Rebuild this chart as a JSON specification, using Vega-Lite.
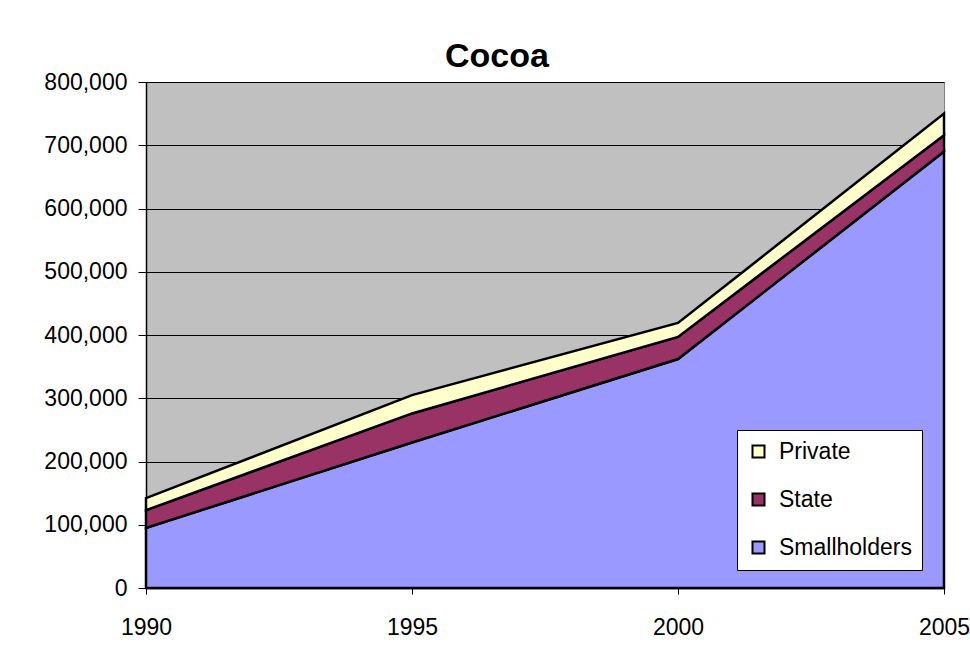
{
  "$schema": "https://vega.github.io/schema/vega-lite/v6.json",
  "width": 798,
  "height": 506,
  "autosize": "none",
  "padding": {"left": 146, "top": 82, "right": 26, "bottom": 63},
  "background": "white",
  "title": {"text": "Cocoa", "font": "Liberation Sans", "fontSize": 34, "fontWeight": "bold", "color": "black", "offset": -3, "anchor": "middle", "dx": -48},
  "data": {"values": [
    {"year": 1990, "owner": "Smallholders", "k": 1, "value": 95000},
    {"year": 1990, "owner": "State", "k": 2, "value": 28000},
    {"year": 1990, "owner": "Private", "k": 3, "value": 19000},
    {"year": 1995, "owner": "Smallholders", "k": 1, "value": 230000},
    {"year": 1995, "owner": "State", "k": 2, "value": 46000},
    {"year": 1995, "owner": "Private", "k": 3, "value": 29000},
    {"year": 2000, "owner": "Smallholders", "k": 1, "value": 362000},
    {"year": 2000, "owner": "State", "k": 2, "value": 35000},
    {"year": 2000, "owner": "Private", "k": 3, "value": 22000},
    {"year": 2005, "owner": "Smallholders", "k": 1, "value": 690000},
    {"year": 2005, "owner": "State", "k": 2, "value": 26000},
    {"year": 2005, "owner": "Private", "k": 3, "value": 34000}
  ]},
  "config": {
    "view": {"fill": "#C0C0C0", "stroke": "#808080", "strokeWidth": 1},
    "axis": {"labelFont": "Liberation Sans", "labelFontSize": 23, "labelColor": "black", "domainColor": "black", "tickColor": "black", "title": null}
  },
  "mark": {"type": "area", "stroke": "black", "strokeWidth": 2.5, "opacity": 1, "strokeJoin": "miter"},
  "encoding": {
    "x": {"field": "year", "type": "quantitative", "scale": {"domain": [1990, 2005], "nice": false, "zero": false},
      "axis": {"values": [1990, 1995, 2000, 2005], "format": "d", "grid": false, "tickSize": 6, "labelPadding": 22, "domainWidth": 1.5, "labelFlush": false}},
    "y": {"field": "value", "type": "quantitative", "stack": "zero", "scale": {"domain": [0, 800000], "nice": false},
      "axis": {"values": [0, 100000, 200000, 300000, 400000, 500000, 600000, 700000, 800000], "format": ",d", "grid": true, "gridColor": "black", "gridWidth": 1, "tickSize": 8, "labelPadding": 11, "domainWidth": 1.5}},
    "order": {"field": "k", "type": "quantitative"},
    "color": {"field": "owner", "type": "nominal",
      "scale": {"domain": ["Private", "State", "Smallholders"], "range": ["#FFFFCC", "#993366", "#9999FF"]},
      "legend": {"title": null, "orient": "none", "legendX": 591, "legendY": 348, "symbolType": "square", "symbolSize": 144, "symbolStrokeColor": "black", "symbolStrokeWidth": 2, "symbolOpacity": 1, "labelFont": "Liberation Sans", "labelFontSize": 23, "labelColor": "black", "rowPadding": 24, "padding": 10, "fillColor": "white", "strokeColor": "black", "symbolOffset": 0, "labelOffset": 9}}
  }
}
